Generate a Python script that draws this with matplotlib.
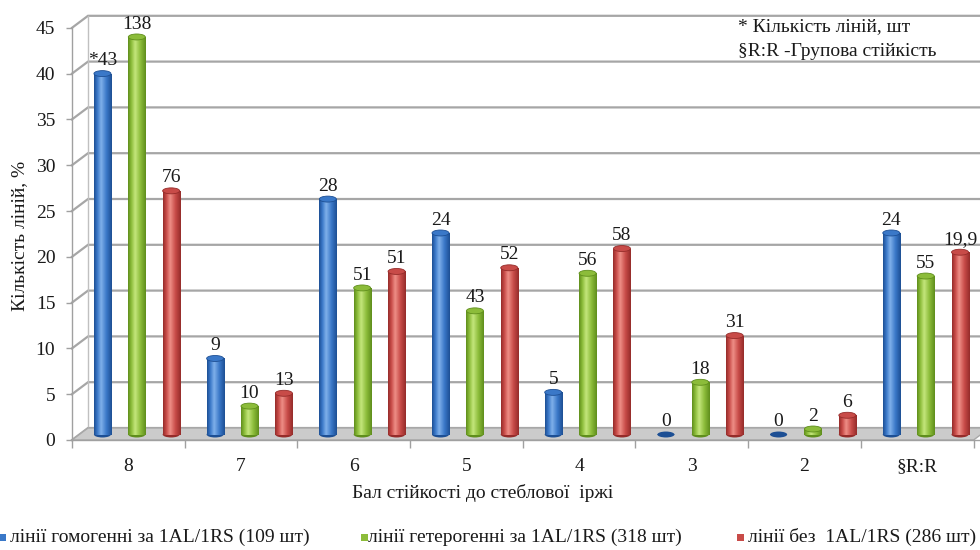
import matplotlib
matplotlib.use("Agg")
import matplotlib.pyplot as plt
import numpy as np
from matplotlib.patches import Rectangle, Ellipse, Polygon
from matplotlib.colors import LinearSegmentedColormap

plt.rcParams['font.family'] = ['Liberation Serif', 'DejaVu Serif']

categories = ["8", "7", "6", "5", "4", "3", "2", "§R:R"]
homo_pct = [39.4, 8.3, 25.7, 22.0, 4.6, 0.0, 0.0, 22.0]
hetero_pct = [43.4, 3.1, 16.0, 13.5, 17.6, 5.7, 0.6, 17.3]
without_pct = [26.6, 4.5, 17.8, 18.2, 20.3, 10.8, 2.1, 19.9]
homo_labels = ["*43", "9", "28", "24", "5", "0", "0", "24"]
hetero_labels = ["138", "10", "51", "43", "56", "18", "2", "55"]
without_labels = ["76", "13", "51", "52", "58", "31", "6", "19,9"]
series_names = ["лінії гомогенні за 1AL/1RS (109 шт)",
                "лінії гетерогенні за 1AL/1RS (318 шт)",
                "лінії без  1AL/1RS (286 шт)"]
yticks = [0, 5, 10, 15, 20, 25, 30, 35, 40, 45]

W, H = 980, 550
fig = plt.figure(figsize=(W / 100, H / 100), dpi=100)
fig.patch.set_facecolor("white")
FS = 14
TC = "#1a1a1a"

def fx(px):
    return px / W

def fy(py):
    return 1 - py / H

ax = fig.add_axes([fx(72), fy(440), fx(980) - fx(72), (46.4 * 9.16) / H])
xr = 7.557
ax.set_xlim(-0.5, xr)
ax.set_ylim(0, 46.4)
for s in ax.spines.values():
    s.set_visible(False)
ax.patch.set_alpha(0)

DX, DY = 0.142, 1.31  # 3D depth offset
grid_c = "#a6a6a6"
# back wall + side wall gridlines
for v in yticks:
    ax.plot([-0.5, -0.5 + DX, xr], [v, v + DY, v + DY], color=grid_c, lw=1.6,
            zorder=1, clip_on=False, solid_joinstyle="miter")
ax.plot([-0.5 + DX, -0.5 + DX], [DY, 45 + DY], color="#c0c0c0", lw=1.0, zorder=1, clip_on=False)
ax.plot([-0.5, -0.5], [0, 45], color="#a0a0a0", lw=1.0, zorder=2, clip_on=False)
# floor
floor = Polygon([(-0.5, 0), (7.5, 0), (7.5 + DX, DY), (-0.5 + DX, DY)], closed=True,
                facecolor="#cbcbcb", edgecolor="#a8a8a8", lw=1.0, zorder=1.5, clip_on=False)
ax.add_patch(floor)
ax.plot([-0.5, 7.5 + 0.2], [0, 0], color="#a0a0a0", lw=1.0, zorder=2, clip_on=False)

# cylinders
styles = [
    ("#1d4f94", "#3a78c8", "#7fb0ea"),
    ("#5f8e1c", "#8cbc3a", "#c4e67c"),
    ("#952c2a", "#c84b48", "#ee8e86"),
]
offsets = [-0.23, 0.075, 0.38]
bw = 0.151
eh = 0.65
base = 0.6
x = np.arange(len(categories))
grad = np.linspace(0, 1, 64).reshape(1, -1)
all_vals = [homo_pct, hetero_pct, without_pct]
all_labels = [homo_labels, hetero_labels, without_labels]
for si, (vals, labs) in enumerate(zip(all_vals, all_labels)):
    dark, mid, light = styles[si]
    cmap = LinearSegmentedColormap.from_list(
        "c%d" % si, [(0, dark), (0.18, mid), (0.4, light), (0.7, mid), (1.0, dark)])
    for xi, v, lab in zip(x, vals, labs):
        xc = xi + offsets[si]
        top = base + v
        ax.add_patch(Ellipse((xc, base), bw, eh, facecolor=dark, edgecolor="none", zorder=3))
        if v > 0:
            bars = ax.bar([xc], [v], width=bw, bottom=base, color=mid, zorder=3.2)
            rect = bars[0]
            im = ax.imshow(grad, cmap=cmap, extent=[xc - bw / 2, xc + bw / 2, base, top],
                           aspect="auto", zorder=3.3, interpolation="bilinear")
            im.set_clip_path(rect)
            ax.add_patch(Ellipse((xc, top), bw, eh, facecolor=mid, edgecolor=dark,
                                 lw=0.6, zorder=3.5))
        else:
            ax.add_patch(Ellipse((xc, top), bw, eh * 0.6, facecolor=dark, edgecolor="none",
                                 zorder=3.5))
        ax.annotate(lab, (xc, top + eh / 2), xytext=(0, 1.0), textcoords="offset points",
                    ha="center", va="bottom", fontsize=FS, color=TC, zorder=6)

ax.set_xlim(-0.5, xr)
ax.set_ylim(0, 46.4)

ax.set_yticks(yticks)
ax.set_yticklabels([str(v) for v in yticks], fontsize=FS, color=TC)
ax.tick_params(axis="y", length=4, width=1, color="#a0a0a0", pad=8)
ax.set_xticks(x)
ax.set_xticklabels(categories, fontsize=FS, color=TC)
ax.tick_params(axis="x", which="major", length=0, pad=13)
ax.set_xticks(np.arange(-0.5, 8.0, 1.0), minor=True)
ax.tick_params(axis="x", which="minor", length=6, width=1, color="#a0a0a0", direction="out")

fig.text(fx(483), fy(493), "Бал стійкості до стеблової  іржі", ha="center", va="center",
         fontsize=FS, color=TC)
fig.text(fx(20), fy(236), "Кількість ліній, %", rotation=90, ha="center", va="center",
         fontsize=FS, color=TC)

fig.text(fx(738), fy(27), "* Кількість ліній, шт", ha="left", va="center", fontsize=FS,
         color=TC)
fig.text(fx(738), fy(51), "§R:R -Групова стійкість", ha="left", va="center", fontsize=FS,
         color=TC)

# legend
leg_items = [(0, 10), (362, 368), (738, 748)]
leg_colors = [styles[0][1], styles[1][1], styles[2][1]]
for (sx, tx), c, name in zip(leg_items, leg_colors, series_names):
    fig.add_artist(Rectangle((fx(sx - 1), fy(541)), 7 / W, 7 / H, transform=fig.transFigure,
                             facecolor=c, edgecolor="none"))
    fig.text(fx(tx), fy(537), name, ha="left", va="center", fontsize=FS, color=TC)

fig.savefig("out.png", dpi=100, facecolor="white")
